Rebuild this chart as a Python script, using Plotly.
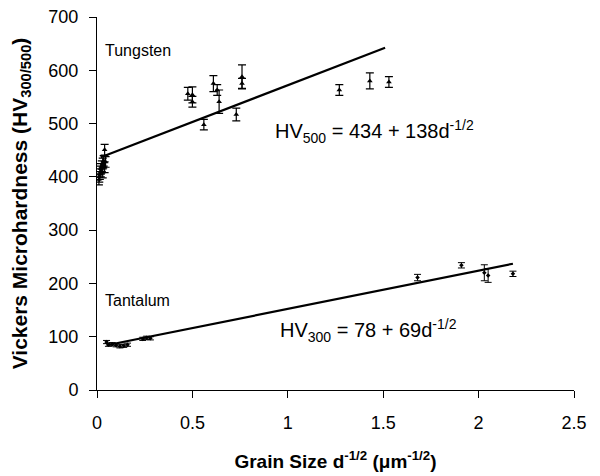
import plotly.graph_objects as go

# Tungsten data (triangles)
w_x = [0.01, 0.012, 0.015, 0.02, 0.02, 0.025, 0.03, 0.03, 0.035, 0.04, 0.045, 0.04,
       0.476, 0.50, 0.50, 0.56, 0.61, 0.63, 0.64, 0.73, 0.76, 0.76,
       1.27, 1.43, 1.53]
w_y = [395, 400, 405, 410, 415, 420, 408, 425, 430, 418, 428, 451,
       556, 554, 541, 498, 575, 563, 541, 517, 588, 575,
       563, 580, 578]
w_err = [10, 10, 10, 10, 10, 10, 10, 10, 10, 10, 10, 10,
         12, 15, 10, 10, 15, 10, 22, 12, 22, 10,
         10, 15, 10]

# Tantalum data (small diamonds)
t_x = [0.05, 0.06, 0.08, 0.10, 0.12, 0.14, 0.16, 0.24, 0.26, 0.28,
       1.68, 1.91, 2.03, 2.05, 2.18]
t_y = [90, 85, 86, 84, 82, 83, 85, 96, 98, 97,
       211, 234, 220, 215, 218]
t_err = [3, 3, 3, 3, 3, 3, 3, 3, 3, 3,
         6, 5, 15, 13, 5]

# Fit lines
w_fit_x = [0.02, 1.51]
w_fit_y = [434 + 138 * v for v in w_fit_x]
t_fit_x = [0.05, 2.18]
t_fit_y = [84, 237]

x_ticks = [0, 0.5, 1, 1.5, 2, 2.5]
x_tick_labels = ["0", "0.5", "1", "1.5", "2", "2.5"]
y_ticks = [0, 100, 200, 300, 400, 500, 600, 700]

FONT = "Arial, Liberation Sans, sans-serif"

fig = go.Figure()
fig.add_trace(go.Scatter(x=w_fit_x, y=w_fit_y, mode="lines",
                         line=dict(color="black", width=2.2), showlegend=False))
fig.add_trace(go.Scatter(x=t_fit_x, y=t_fit_y, mode="lines",
                         line=dict(color="black", width=2.2), showlegend=False))
fig.add_trace(go.Scatter(x=w_x, y=w_y, mode="markers",
                         marker=dict(symbol="triangle-up", size=5, color="black"),
                         error_y=dict(type="data", array=w_err, color="black",
                                      thickness=1.2, width=4),
                         showlegend=False))
fig.add_trace(go.Scatter(x=t_x, y=t_y, mode="markers",
                         marker=dict(symbol="diamond", size=3.5, color="black"),
                         error_y=dict(type="data", array=t_err, color="black",
                                      thickness=1.0, width=3.5),
                         showlegend=False))

fig.add_annotation(x=0.03, y=638, xref="x", yref="y", text="Tungsten",
                   showarrow=False, xanchor="left", yanchor="middle",
                   font=dict(family=FONT, size=16, color="black"))
fig.add_annotation(x=0.03, y=168, xref="x", yref="y", text="Tantalum",
                   showarrow=False, xanchor="left", yanchor="middle",
                   font=dict(family=FONT, size=16, color="black"))
fig.add_annotation(x=0.92, y=485, xref="x", yref="y",
                   text="HV<sub>500</sub> = 434 + 138d<sup>-1/2</sup>",
                   showarrow=False, xanchor="left", yanchor="middle",
                   font=dict(family=FONT, size=20, color="black"))
fig.add_annotation(x=0.95, y=112, xref="x", yref="y",
                   text="HV<sub>300</sub> = 78 + 69d<sup>-1/2</sup>",
                   showarrow=False, xanchor="left", yanchor="middle",
                   font=dict(family=FONT, size=20, color="black"))

fig.update_layout(
    width=600, height=476,
    margin=dict(l=89, r=34, t=9, b=94),
    paper_bgcolor="white", plot_bgcolor="white",
    font=dict(family=FONT, size=18, color="black"),
    xaxis=dict(range=[0, 2.5], tickvals=x_ticks, ticktext=x_tick_labels,
               automargin=False, ticklabeloverflow="allow",
               showgrid=False, zeroline=False, showline=True, linecolor="black",
               linewidth=1, ticks="outside", ticklen=7, tickcolor="black",
               tickwidth=1, ticklabelstandoff=9,
               tickfont=dict(family=FONT, size=18),
               title=dict(text="<b>Grain Size d<sup>-1/2</sup> (μm<sup>-1/2</sup>)</b>",
                          font=dict(family=FONT, size=19), standoff=23)),
    yaxis=dict(range=[0, 700], tickvals=y_ticks,
               automargin=False, ticklabeloverflow="allow",
               showgrid=False, zeroline=False, showline=True, linecolor="black",
               linewidth=1, ticks="outside", ticklen=7, tickcolor="black",
               tickwidth=1, ticklabelstandoff=7,
               tickfont=dict(family=FONT, size=18),
               title=dict(text="<b>Vickers Microhardness (HV<sub>300/500</sub>)</b>",
                          font=dict(family=FONT, size=21), standoff=16)),
)

fig.write_html("out.html")
